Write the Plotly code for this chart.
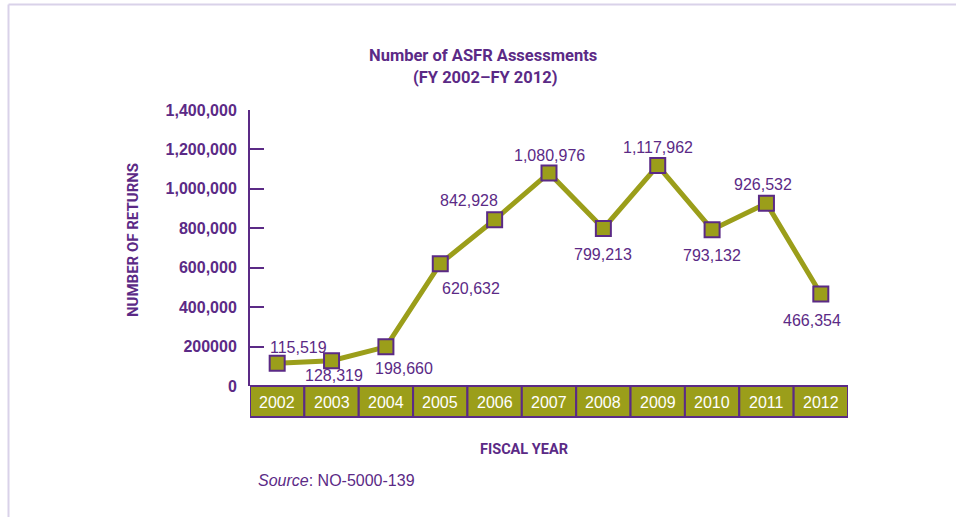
import plotly.graph_objects as go

# ---- data ----
years = ["2002", "2003", "2004", "2005", "2006", "2007", "2008", "2009", "2010", "2011", "2012"]
assessments = [115519, 128319, 198660, 620632, 842928, 1080976, 799213, 1117962, 793132, 926532, 466354]
y_tickvals = [0, 200000, 400000, 600000, 800000, 1000000, 1200000, 1400000]
y_ticktext = ["0", "200000", "400,000", "600,000", "800,000", "1,000,000", "1,200,000", "1,400,000"]

# label offsets in pixels (style only)
label_dx = [21, 2, 18, 31, -26, 0, 0, 0, 0, -3, -9]
label_dy = [16, -15, -22, -25, 19, 17, -26, 18, -26, 19, -26]

PURPLE = "#5b2a86"
OLIVE = "#9b9e1a"
BORDER = "#d9d2e9"
BODY_FONT = "Liberation Sans, Arial, sans-serif"
COND_FONT = "Roboto, sans-serif"

W, H = 956, 517
ML, MR, MT, MB = 250, 108, 110, 131
PW, PH = W - ML - MR, H - MT - MB


def px_x(x):
    return (x - ML) / PW


def px_y(y):
    return (H - MB - y) / PH


fig = go.Figure()
fig.add_trace(go.Scatter(
    x=list(range(len(years))), y=assessments, mode="lines+markers",
    line=dict(color=OLIVE, width=5),
    marker=dict(symbol="square", size=15, color=OLIVE, line=dict(color=PURPLE, width=2)),
    cliponaxis=False, customdata=years, hovertemplate="%{customdata}: %{y:,}<extra></extra>",
    showlegend=False,
))

shapes = []
annotations = []

# year band
for i, yr in enumerate(years):
    shapes.append(dict(type="rect", xref="x", yref="paper", x0=i - 0.5, x1=i + 0.5,
                       y0=px_y(417), y1=px_y(386), fillcolor=OLIVE,
                       line=dict(color=PURPLE, width=2), layer="above"))
    annotations.append(dict(xref="x", yref="paper", x=i, y=px_y(402), text=yr,
                            showarrow=False, font=dict(family=BODY_FONT, size=16, color="white"),
                            xanchor="center", yanchor="middle"))

# data labels
for i, (v, dx, dy) in enumerate(zip(assessments, label_dx, label_dy)):
    annotations.append(dict(xref="x", yref="y", x=i, y=v, text=f"{v:,}", showarrow=False,
                            xshift=dx, yshift=dy, xanchor="center", yanchor="middle",
                            font=dict(family=BODY_FONT, size=16, color=PURPLE)))

# titles
annotations += [
    dict(xref="paper", yref="paper", x=px_x(483), y=px_y(55), text="<b>Number of ASFR Assessments</b>",
         showarrow=False, xanchor="center", yanchor="middle",
         font=dict(family=COND_FONT, size=16.5, color=PURPLE)),
    dict(xref="paper", yref="paper", x=px_x(485), y=px_y(78), text="<b>(FY 2002–FY 2012)</b>",
         showarrow=False, xanchor="center", yanchor="middle",
         font=dict(family=COND_FONT, size=16.5, color=PURPLE)),
    dict(xref="paper", yref="paper", x=px_x(133), y=px_y(240), text="<b>NUMBER OF RETURNS</b>",
         showarrow=False, xanchor="center", yanchor="middle", textangle=-90,
         font=dict(family=COND_FONT, size=15, color=PURPLE)),
    dict(xref="paper", yref="paper", x=px_x(524), y=px_y(449), text="<b>FISCAL YEAR</b>",
         showarrow=False, xanchor="center", yanchor="middle",
         font=dict(family=COND_FONT, size=14.5, color=PURPLE)),
    dict(xref="paper", yref="paper", x=px_x(256), y=px_y(480), text="<i>Source</i>: NO-5000-139",
         showarrow=False, xanchor="left", yanchor="middle",
         font=dict(family=BODY_FONT, size=16, color=PURPLE)),
]

# page border (top and left)
shapes += [
    dict(type="line", xref="paper", yref="paper", x0=px_x(8.5), x1=px_x(960), y0=px_y(4.5), y1=px_y(4.5),
         line=dict(color=BORDER, width=2)),
    dict(type="line", xref="paper", yref="paper", x0=px_x(8.5), x1=px_x(8.5), y0=px_y(4.5), y1=px_y(520),
         line=dict(color=BORDER, width=2)),
]

fig.update_layout(
    width=W, height=H, autosize=False,
    margin=dict(l=ML, r=MR, t=MT, b=MB, pad=0),
    paper_bgcolor="white", plot_bgcolor="white",
    shapes=shapes, annotations=annotations,
    xaxis=dict(range=[-0.5, len(years) - 0.5], showticklabels=False, showgrid=False,
               zeroline=False, showline=False, ticks="", fixedrange=True),
    yaxis=dict(range=[0, 1400000], tickvals=y_tickvals, ticktext=y_ticktext,
               ticks="inside", ticklen=14, tickwidth=2, tickcolor=PURPLE,
               showline=True, linecolor=PURPLE, linewidth=2, showgrid=False, zeroline=False,
               ticklabelstandoff=8,
               tickfont=dict(family=BODY_FONT, size=16, color=PURPLE, weight="bold"), fixedrange=True),
)

fig.write_html("out.html")
